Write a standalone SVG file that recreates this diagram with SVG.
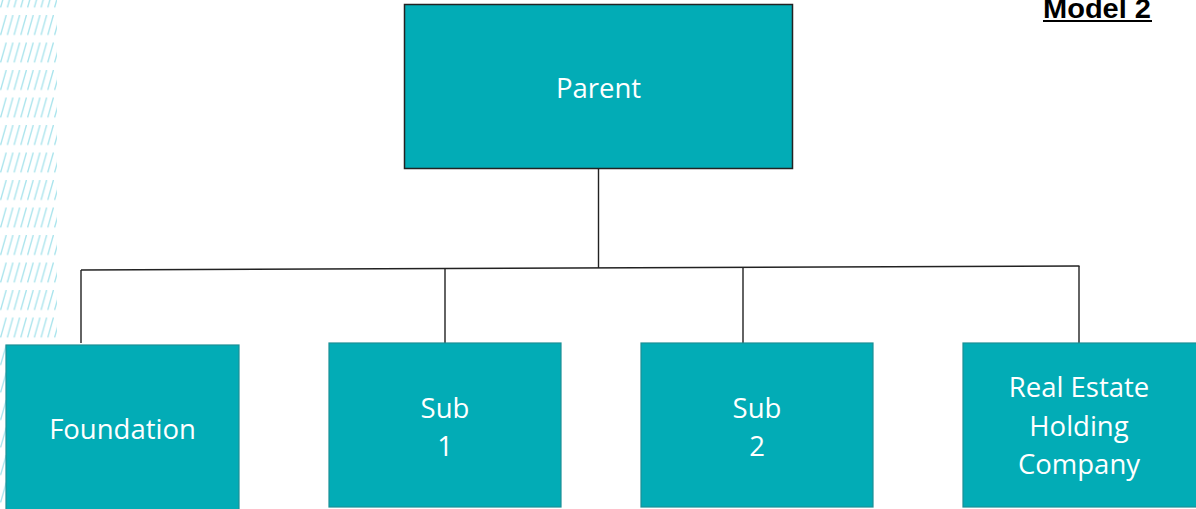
<svg xmlns="http://www.w3.org/2000/svg" width="1196" height="509" viewBox="0 0 1196 509">
  <defs>
    <pattern id="hatch" patternUnits="userSpaceOnUse" x="0" y="15" width="6.75" height="27.5">
      <line x1="0.6" y1="20" x2="6.2" y2="0" stroke="#a6e3ec" stroke-width="1.3"/>
    </pattern>
    <style>
      .box { fill: #02acb6; stroke: #1b8f96; stroke-width: 1.2; }
      .parent { fill: #02acb6; stroke: #222; stroke-width: 1.5; }
      .lbl { font-family: "Open Sans", "Noto Sans", sans-serif; font-size: 27.5px; fill: #ffffff; text-anchor: middle; }
      .conn { stroke: #222; stroke-width: 1.4; fill: none; }
    </style>
  </defs>
  <rect x="0" y="0" width="1196" height="509" fill="#ffffff"/>
  <rect id="hatching" x="0" y="0" width="57" height="509" fill="url(#hatch)"/>

  <g id="title">
    <text x="1151" y="18" font-family="'Liberation Sans', Arial, sans-serif" font-weight="bold" font-size="27" text-anchor="end" textLength="108" lengthAdjust="spacingAndGlyphs" fill="#000">Model 2</text>
    <line x1="1043" y1="21" x2="1152" y2="21" stroke="#000" stroke-width="2"/>
  </g>

  <g id="connectors">
    <line class="conn" x1="598.5" y1="168" x2="598.5" y2="268"/>
    <line class="conn" x1="81" y1="270" x2="1079.5" y2="266"/>
    <line class="conn" x1="81" y1="270" x2="81" y2="343"/>
    <line class="conn" x1="445" y1="268.5" x2="445" y2="343"/>
    <line class="conn" x1="743" y1="267.5" x2="743" y2="343"/>
    <line class="conn" x1="1079" y1="266" x2="1079" y2="343"/>
  </g>

  <g id="parent">
    <rect class="parent" x="404.5" y="4.5" width="388" height="164"/>
    <text class="lbl" x="598.5" y="98">Parent</text>
  </g>

  <g id="foundation">
    <rect class="box" x="6" y="345" width="233" height="170"/>
    <text class="lbl" x="122.5" y="439">Foundation</text>
  </g>

  <g id="sub1">
    <rect class="box" x="329" y="343" width="232" height="164"/>
    <text class="lbl" x="445" y="418">Sub</text>
    <text class="lbl" x="445" y="456">1</text>
  </g>

  <g id="sub2">
    <rect class="box" x="641" y="343" width="232" height="164"/>
    <text class="lbl" x="757" y="418">Sub</text>
    <text class="lbl" x="757" y="456">2</text>
  </g>

  <g id="realestate">
    <rect class="box" x="963" y="343" width="240" height="164"/>
    <text class="lbl" x="1079" y="397">Real Estate</text>
    <text class="lbl" x="1079" y="435.5">Holding</text>
    <text class="lbl" x="1079" y="474">Company</text>
  </g>
</svg>
